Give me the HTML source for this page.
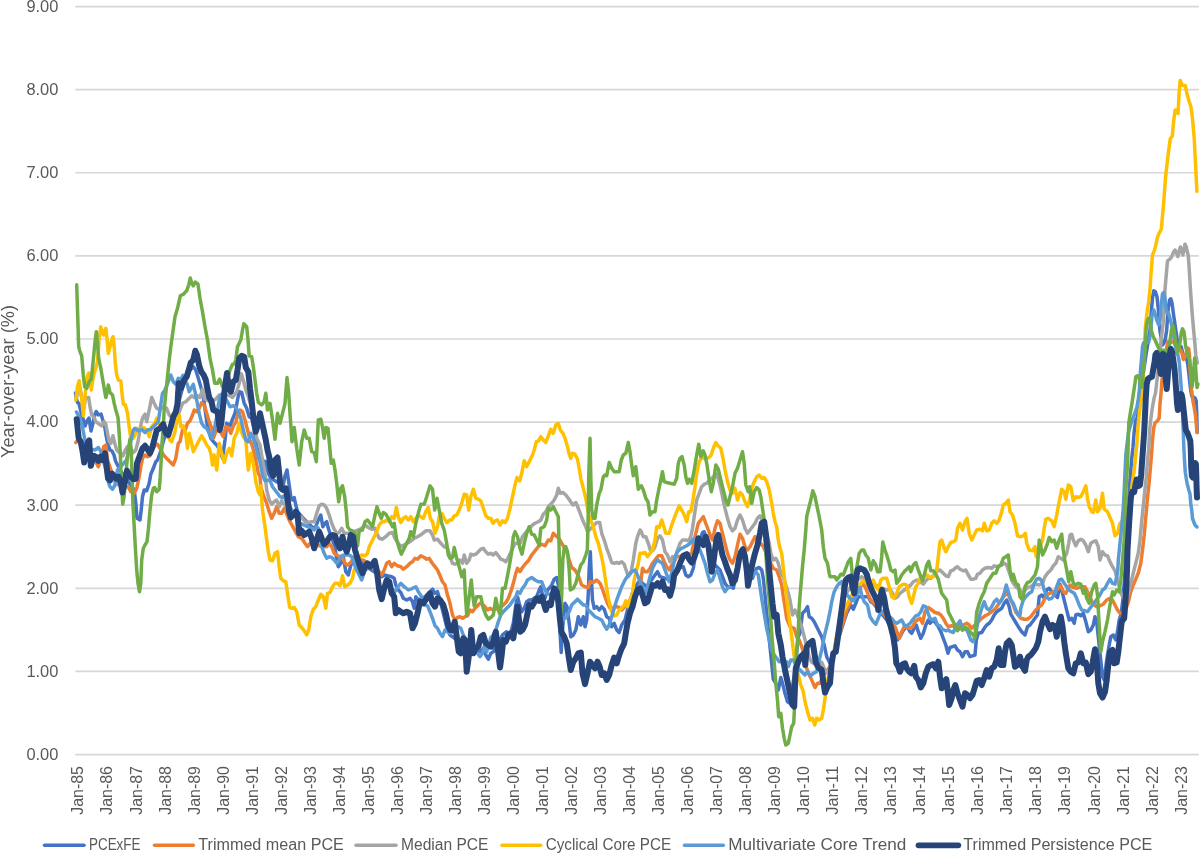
<!DOCTYPE html>
<html><head><meta charset="utf-8"><title>Chart</title>
<style>html,body{margin:0;padding:0;background:#fff}svg{display:block}text{font-family:"Liberation Sans",sans-serif;fill:#595959}</style></head>
<body>
<svg width="1200" height="854" viewBox="0 0 1200 854">
<rect width="1200" height="854" fill="#fff"/>
<g stroke="#D7D7D7" stroke-width="1.7">
<line x1="75.3" y1="6.55" x2="1198.75" y2="6.55"/>
<line x1="75.3" y1="89.66" x2="1198.75" y2="89.66"/>
<line x1="75.3" y1="172.77" x2="1198.75" y2="172.77"/>
<line x1="75.3" y1="255.88" x2="1198.75" y2="255.88"/>
<line x1="75.3" y1="338.99" x2="1198.75" y2="338.99"/>
<line x1="75.3" y1="422.11" x2="1198.75" y2="422.11"/>
<line x1="75.3" y1="505.22" x2="1198.75" y2="505.22"/>
<line x1="75.3" y1="588.33" x2="1198.75" y2="588.33"/>
<line x1="75.3" y1="671.44" x2="1198.75" y2="671.44"/>
<line x1="75.3" y1="754.55" x2="1198.75" y2="754.55"/>
</g>
<g font-size="16.3">
<text x="26.4" y="11.8" textLength="32" lengthAdjust="spacingAndGlyphs">9.00</text>
<text x="26.4" y="95.0" textLength="32" lengthAdjust="spacingAndGlyphs">8.00</text>
<text x="26.4" y="178.1" textLength="32" lengthAdjust="spacingAndGlyphs">7.00</text>
<text x="26.4" y="261.2" textLength="32" lengthAdjust="spacingAndGlyphs">6.00</text>
<text x="26.4" y="344.3" textLength="32" lengthAdjust="spacingAndGlyphs">5.00</text>
<text x="26.4" y="427.4" textLength="32" lengthAdjust="spacingAndGlyphs">4.00</text>
<text x="26.4" y="510.5" textLength="32" lengthAdjust="spacingAndGlyphs">3.00</text>
<text x="26.4" y="593.6" textLength="32" lengthAdjust="spacingAndGlyphs">2.00</text>
<text x="26.4" y="676.7" textLength="32" lengthAdjust="spacingAndGlyphs">1.00</text>
<text x="26.4" y="759.8" textLength="32" lengthAdjust="spacingAndGlyphs">0.00</text>
</g>
<text font-size="18.3" transform="translate(14.2,458) rotate(-90)" textLength="153" lengthAdjust="spacingAndGlyphs">Year-over-year (%)</text>
<g font-size="16.3">
<text transform="translate(83.4,814.8) rotate(-90)" textLength="48.8" lengthAdjust="spacingAndGlyphs">Jan-85</text>
<text transform="translate(112.4,814.8) rotate(-90)" textLength="48.8" lengthAdjust="spacingAndGlyphs">Jan-86</text>
<text transform="translate(141.5,814.8) rotate(-90)" textLength="48.8" lengthAdjust="spacingAndGlyphs">Jan-87</text>
<text transform="translate(170.5,814.8) rotate(-90)" textLength="48.8" lengthAdjust="spacingAndGlyphs">Jan-88</text>
<text transform="translate(199.5,814.8) rotate(-90)" textLength="48.8" lengthAdjust="spacingAndGlyphs">Jan-89</text>
<text transform="translate(228.6,814.8) rotate(-90)" textLength="48.8" lengthAdjust="spacingAndGlyphs">Jan-90</text>
<text transform="translate(257.6,814.8) rotate(-90)" textLength="48.8" lengthAdjust="spacingAndGlyphs">Jan-91</text>
<text transform="translate(286.6,814.8) rotate(-90)" textLength="48.8" lengthAdjust="spacingAndGlyphs">Jan-92</text>
<text transform="translate(315.6,814.8) rotate(-90)" textLength="48.8" lengthAdjust="spacingAndGlyphs">Jan-93</text>
<text transform="translate(344.7,814.8) rotate(-90)" textLength="48.8" lengthAdjust="spacingAndGlyphs">Jan-94</text>
<text transform="translate(373.7,814.8) rotate(-90)" textLength="48.8" lengthAdjust="spacingAndGlyphs">Jan-95</text>
<text transform="translate(402.7,814.8) rotate(-90)" textLength="48.8" lengthAdjust="spacingAndGlyphs">Jan-96</text>
<text transform="translate(431.8,814.8) rotate(-90)" textLength="48.8" lengthAdjust="spacingAndGlyphs">Jan-97</text>
<text transform="translate(460.8,814.8) rotate(-90)" textLength="48.8" lengthAdjust="spacingAndGlyphs">Jan-98</text>
<text transform="translate(489.8,814.8) rotate(-90)" textLength="48.8" lengthAdjust="spacingAndGlyphs">Jan-99</text>
<text transform="translate(518.9,814.8) rotate(-90)" textLength="48.8" lengthAdjust="spacingAndGlyphs">Jan-00</text>
<text transform="translate(547.9,814.8) rotate(-90)" textLength="48.8" lengthAdjust="spacingAndGlyphs">Jan-01</text>
<text transform="translate(576.9,814.8) rotate(-90)" textLength="48.8" lengthAdjust="spacingAndGlyphs">Jan-02</text>
<text transform="translate(605.9,814.8) rotate(-90)" textLength="48.8" lengthAdjust="spacingAndGlyphs">Jan-03</text>
<text transform="translate(635.0,814.8) rotate(-90)" textLength="48.8" lengthAdjust="spacingAndGlyphs">Jan-04</text>
<text transform="translate(664.0,814.8) rotate(-90)" textLength="48.8" lengthAdjust="spacingAndGlyphs">Jan-05</text>
<text transform="translate(693.0,814.8) rotate(-90)" textLength="48.8" lengthAdjust="spacingAndGlyphs">Jan-06</text>
<text transform="translate(722.1,814.8) rotate(-90)" textLength="48.8" lengthAdjust="spacingAndGlyphs">Jan-07</text>
<text transform="translate(751.1,814.8) rotate(-90)" textLength="48.8" lengthAdjust="spacingAndGlyphs">Jan-08</text>
<text transform="translate(780.1,814.8) rotate(-90)" textLength="48.8" lengthAdjust="spacingAndGlyphs">Jan-09</text>
<text transform="translate(809.1,814.8) rotate(-90)" textLength="48.8" lengthAdjust="spacingAndGlyphs">Jan-10</text>
<text transform="translate(838.2,814.8) rotate(-90)" textLength="48.8" lengthAdjust="spacingAndGlyphs">Jan-11</text>
<text transform="translate(867.2,814.8) rotate(-90)" textLength="48.8" lengthAdjust="spacingAndGlyphs">Jan-12</text>
<text transform="translate(896.2,814.8) rotate(-90)" textLength="48.8" lengthAdjust="spacingAndGlyphs">Jan-13</text>
<text transform="translate(925.3,814.8) rotate(-90)" textLength="48.8" lengthAdjust="spacingAndGlyphs">Jan-14</text>
<text transform="translate(954.3,814.8) rotate(-90)" textLength="48.8" lengthAdjust="spacingAndGlyphs">Jan-15</text>
<text transform="translate(983.3,814.8) rotate(-90)" textLength="48.8" lengthAdjust="spacingAndGlyphs">Jan-16</text>
<text transform="translate(1012.4,814.8) rotate(-90)" textLength="48.8" lengthAdjust="spacingAndGlyphs">Jan-17</text>
<text transform="translate(1041.4,814.8) rotate(-90)" textLength="48.8" lengthAdjust="spacingAndGlyphs">Jan-18</text>
<text transform="translate(1070.4,814.8) rotate(-90)" textLength="48.8" lengthAdjust="spacingAndGlyphs">Jan-19</text>
<text transform="translate(1099.5,814.8) rotate(-90)" textLength="48.8" lengthAdjust="spacingAndGlyphs">Jan-20</text>
<text transform="translate(1128.5,814.8) rotate(-90)" textLength="48.8" lengthAdjust="spacingAndGlyphs">Jan-21</text>
<text transform="translate(1157.5,814.8) rotate(-90)" textLength="48.8" lengthAdjust="spacingAndGlyphs">Jan-22</text>
<text transform="translate(1186.5,814.8) rotate(-90)" textLength="48.8" lengthAdjust="spacingAndGlyphs">Jan-23</text>
</g>
<g fill="none" stroke-linejoin="round" stroke-linecap="round">
<polyline stroke="#4472C4" stroke-width="3.5" points="75.5,393.0 76.2,398.0 77.5,402.5 79.0,403.5 81.5,414.0 83.0,419.0 85.0,426.0 87.0,421.0 89.0,418.0 91.0,431.0 93.0,423.0 95.0,414.0 96.2,411.5 98.5,415.0 101.0,414.0 102.5,419.0 104.5,425.0 106.0,435.0 108.0,445.0 110.0,450.0 112.0,451.0 114.0,455.0 115.5,461.0 118.0,466.0 120.0,470.0 134.2,490.0 135.8,503.3 137.0,518.3 140.0,520.0 141.2,510.0 142.5,496.7 144.2,490.0 146.7,490.8 149.2,483.3 150.8,474.2 153.3,468.3 155.8,461.7 157.5,460.0 160.0,453.3 164.2,438.3 170.0,430.0 176.7,410.0 183.3,385.0 188.3,371.7 193.3,366.7 195.8,370.0 198.3,378.3 200.8,386.7 203.3,396.7 207.5,426.7 210.8,438.3 214.2,442.5 216.7,445.0 220.0,450.0 222.5,458.3 225.0,440.0 226.7,423.3 230.0,425.8 232.5,419.2 235.0,413.3 237.5,400.0 239.2,391.7 241.7,392.5 244.2,403.3 246.7,408.3 249.2,416.7 251.7,418.3 254.2,430.0 256.7,446.7 260.0,460.0 265.8,461.7 268.3,473.3 270.8,478.3 276.7,481.7 283.3,485.0 285.0,475.8 287.0,470.0 288.7,481.7 290.8,496.7 292.5,500.0 294.2,497.5 295.8,505.0 297.5,511.7 303.3,518.3 306.7,521.7 310.0,525.0 313.3,528.3 315.8,526.7 318.3,520.0 320.8,515.0 322.8,526.7 325.0,523.3 326.7,521.7 328.3,528.3 330.0,533.3 332.5,540.0 335.0,546.7 336.7,560.0 338.3,566.7 340.8,563.3 343.3,556.7 345.8,571.7 348.3,575.0 350.0,568.3 352.5,560.0 355.0,556.7 366.7,566.7 381.7,576.7 384.2,575.0 387.5,575.8 391.7,576.7 394.2,578.3 395.8,585.0 398.3,590.0 400.8,592.5 403.3,598.3 406.7,600.0 410.0,598.3 412.5,601.7 414.2,608.3 415.8,596.7 418.3,600.0 425.0,596.7 430.0,591.7 432.5,589.2 435.0,593.3 437.5,591.7 440.0,600.0 447.5,630.0 450.0,635.0 452.5,636.7 465.0,646.7 480.8,651.7 483.3,648.3 485.8,655.0 488.3,659.2 490.8,653.3 493.3,651.7 495.8,646.7 502.5,635.0 506.7,631.7 510.0,635.0 513.3,623.3 515.8,605.0 517.5,596.7 519.2,603.3 521.7,611.7 524.2,608.3 526.7,601.7 529.2,600.0 531.7,600.0 534.2,598.3 536.7,596.7 539.2,590.0 540.8,586.7 542.5,595.0 545.0,598.3 547.5,590.0 549.2,588.3 551.7,585.0 554.2,579.2 556.7,577.5 558.3,585.0 559.2,610.0 560.3,636.7 561.2,652.5 562.0,636.7 563.3,620.0 565.0,603.3 567.0,606.7 569.2,623.3 570.8,636.7 573.3,635.0 575.8,630.0 578.3,616.7 580.8,625.0 583.3,616.7 585.0,626.7 586.7,620.0 588.3,593.3 589.2,568.3 590.3,551.7 591.3,576.7 592.5,600.0 594.2,608.3 596.7,606.7 599.2,610.0 601.7,606.7 604.2,609.2 606.7,616.7 609.2,618.3 611.7,626.7 614.2,623.3 616.7,630.0 619.2,632.5 621.7,625.0 625.0,620.0 627.5,610.0 633.3,590.0 640.0,580.0 642.5,583.3 646.7,586.7 655.0,575.0 657.5,571.7 660.0,576.7 670.0,580.0 678.3,568.3 683.3,566.7 685.8,575.0 688.3,576.7 690.8,575.0 693.3,568.3 695.0,558.3 700.0,540.0 702.5,532.5 704.2,531.7 705.8,536.7 711.7,561.7 720.0,570.0 722.5,576.7 725.0,583.3 727.5,586.7 730.0,586.7 733.3,588.3 735.8,576.7 739.2,560.0 742.5,551.7 745.3,558.3 747.7,580.0 750.3,575.8 752.5,578.3 754.2,573.3 756.7,568.3 759.2,567.5 761.7,570.0 763.3,578.3 765.0,595.0 766.7,613.3 768.3,630.0 770.0,646.7 771.7,663.3 773.3,679.2 775.8,683.3 778.3,690.0 780.8,677.5 782.5,683.3 785.0,693.3 787.5,701.7 790.0,703.3 795.0,670.0 798.3,636.7 800.0,633.3 802.5,613.3 805.0,610.8 807.5,606.7 809.2,616.7 811.7,618.3 814.2,621.7 816.7,626.7 819.2,631.7 821.7,636.7 824.2,645.0 826.7,656.7 830.0,663.3 835.0,650.0 843.3,623.3 846.7,613.3 850.8,605.0 853.3,609.2 855.8,603.3 858.3,596.7 868.3,596.7 870.8,601.7 873.3,603.3 886.7,620.0 897.5,640.0 900.0,636.7 902.5,631.7 905.0,628.3 907.5,626.7 910.0,631.7 911.7,633.3 914.2,628.3 916.3,625.0 918.3,631.7 920.8,638.3 923.3,633.3 925.8,625.0 928.3,620.0 930.0,623.3 933.3,620.0 935.8,623.3 938.3,626.7 940.8,631.7 943.3,638.3 945.8,645.0 948.0,653.3 950.0,647.5 952.5,646.7 955.0,645.8 957.5,650.0 960.0,651.7 962.5,656.7 965.0,651.7 967.5,651.7 970.0,656.7 972.5,655.8 975.0,655.0 976.3,640.0 978.3,633.3 981.7,632.5 984.2,628.3 986.7,625.0 989.2,623.3 991.7,620.0 994.2,615.0 996.7,611.7 999.2,610.0 1001.7,608.3 1004.2,603.3 1006.7,600.0 1009.2,606.7 1010.8,614.2 1013.3,618.3 1015.8,622.5 1018.3,626.7 1020.0,629.2 1021.7,631.7 1025.0,635.0 1027.5,626.7 1030.0,625.0 1032.5,621.7 1035.0,618.3 1037.5,615.0 1039.2,596.7 1041.7,595.0 1044.2,598.3 1046.7,590.0 1049.2,588.3 1051.7,591.7 1055.0,595.0 1057.5,597.5 1060.0,584.2 1062.5,593.3 1065.0,603.3 1067.5,613.3 1069.2,620.0 1071.7,618.3 1074.2,623.3 1075.8,615.0 1078.3,614.2 1080.8,615.8 1083.3,613.3 1085.8,621.7 1088.3,631.7 1090.8,630.0 1093.3,625.0 1095.0,616.7 1096.7,621.7 1098.3,636.7 1100.0,653.3 1102.5,676.7 1104.2,680.0 1106.7,660.0 1109.2,645.0 1110.8,636.7 1113.3,635.0 1115.8,640.0 1117.5,631.7 1119.2,620.0 1120.8,615.0 1122.5,603.3 1124.5,580.0 1126.5,540.0 1128.3,508.0 1130.0,480.0 1131.8,458.0 1132.9,448.0 1134.2,431.7 1135.6,421.0 1137.5,416.7 1140.0,400.0 1143.0,375.0 1146.0,355.0 1150.0,330.0 1151.2,313.0 1152.5,298.0 1153.8,290.8 1155.4,291.7 1157.0,296.7 1158.3,309.0 1159.2,321.7 1160.0,331.0 1162.5,345.0 1165.0,341.0 1166.7,330.0 1167.5,317.5 1168.3,307.5 1169.6,300.0 1170.8,298.8 1172.0,303.0 1173.3,313.0 1174.6,321.7 1175.8,330.0 1177.0,338.0 1178.3,345.0 1181.2,346.7 1182.5,352.5 1183.3,354.0 1186.7,359.0 1187.9,365.0 1190.4,388.0 1191.7,396.0 1195.0,398.0 1196.2,401.0 1196.7,413.0 1197.2,432.5"/>
<polyline stroke="#ED7D31" stroke-width="3.5" points="75.8,442.5 78.3,440.0 85.0,453.3 95.8,461.7 98.3,466.7 100.8,460.0 103.7,446.7 105.8,445.0 107.5,460.0 115.0,481.7 117.5,484.2 123.3,486.7 128.3,486.7 130.8,491.7 134.2,493.3 136.7,488.3 139.2,476.7 140.8,466.7 142.5,458.3 145.0,455.0 147.5,456.7 150.0,455.8 152.5,450.0 155.0,445.0 157.5,444.2 160.0,448.3 162.5,453.3 165.0,456.7 168.3,460.0 170.8,462.5 173.3,465.0 175.8,458.3 178.3,443.3 180.0,441.7 182.5,430.0 185.0,430.8 187.5,423.3 190.0,420.8 192.5,415.0 194.2,410.0 196.7,411.7 199.2,408.3 201.7,402.5 204.2,405.0 206.7,413.3 209.2,421.7 211.7,428.3 213.3,438.3 215.8,431.7 218.3,430.0 220.8,432.5 223.3,436.7 225.8,426.7 228.3,427.5 230.8,433.3 233.3,425.8 235.8,422.5 237.5,415.0 240.0,410.0 242.5,411.7 245.0,420.0 247.5,430.0 250.0,440.0 252.5,446.7 255.8,460.0 258.3,473.3 260.0,476.7 260.8,486.7 263.3,495.0 266.7,503.3 269.2,511.7 271.7,518.3 274.2,513.3 276.7,506.7 279.2,513.3 281.7,513.3 284.2,508.3 285.8,511.7 290.0,521.7 298.3,536.7 301.7,538.3 305.0,543.3 307.5,546.7 310.0,543.3 316.7,545.0 323.3,546.7 326.7,546.7 329.2,543.3 331.7,546.7 334.2,553.3 336.7,555.0 340.0,556.7 342.5,558.3 345.0,563.3 347.5,565.0 350.0,563.3 352.5,560.0 363.3,560.0 371.7,566.7 379.2,571.7 381.7,575.0 384.2,570.0 386.7,563.3 389.2,561.7 391.7,566.7 394.2,563.3 397.5,565.8 400.8,566.7 403.3,569.2 406.7,566.7 410.0,563.3 412.5,561.7 415.0,558.3 417.5,559.2 420.8,555.8 424.2,557.5 426.7,559.2 429.2,558.3 431.7,562.5 435.0,566.7 437.5,570.0 440.0,575.8 442.5,581.7 445.0,585.0 447.5,595.0 450.0,603.3 452.5,615.0 455.0,620.0 457.5,617.5 460.0,616.7 462.5,618.3 465.0,616.7 467.5,615.8 470.0,610.0 472.5,611.7 475.0,608.3 477.5,605.8 480.0,603.3 482.5,604.2 485.0,606.7 487.5,610.0 490.0,608.3 493.3,610.0 497.5,608.3 502.5,605.8 505.8,602.5 508.3,598.3 510.8,591.7 513.3,583.3 515.8,573.3 517.5,568.3 520.0,571.7 522.5,567.5 525.0,564.2 528.3,560.8 531.7,555.0 535.0,550.8 538.3,546.7 541.7,544.2 545.0,545.8 548.3,540.0 550.8,540.8 553.3,533.3 555.8,535.8 558.3,537.5 560.8,541.7 563.3,545.8 566.7,551.7 569.2,560.0 571.7,567.5 575.0,570.0 578.3,575.8 581.7,585.0 585.0,586.7 588.3,587.5 590.0,581.7 593.3,582.5 596.7,580.0 600.0,583.3 602.5,589.2 605.0,596.7 607.5,603.3 610.0,608.3 616.7,606.7 619.2,607.5 621.7,610.0 628.3,603.3 630.8,598.3 640.0,588.3 642.5,568.3 645.0,571.7 647.5,571.7 650.0,568.3 652.5,563.3 655.0,560.0 658.3,555.8 661.7,555.8 664.2,561.7 666.7,566.7 669.2,570.0 671.7,565.0 674.2,561.7 676.7,556.7 685.0,555.8 691.7,553.3 694.2,540.0 695.8,533.3 698.3,523.3 700.8,520.0 703.3,516.7 705.8,523.3 708.3,530.0 710.8,536.7 712.5,540.0 715.0,528.3 717.5,520.8 720.0,523.3 722.5,533.3 725.0,543.3 727.5,553.3 730.0,560.0 732.5,563.3 735.0,556.7 737.5,545.0 740.0,534.2 742.5,538.3 745.0,546.7 747.5,550.0 750.0,546.7 752.5,541.7 755.0,536.7 763.3,546.7 770.8,563.3 773.3,568.3 776.7,570.0 779.2,576.7 781.7,585.0 783.3,596.7 785.0,606.7 786.7,618.3 790.0,626.7 794.2,628.3 796.7,636.7 799.2,640.0 801.7,646.7 803.3,651.7 805.0,665.0 806.7,668.3 809.2,675.0 811.7,680.0 815.0,687.5 817.5,683.3 820.0,683.3 822.5,676.7 830.0,666.7 831.7,661.7 836.7,641.7 843.3,621.7 846.7,610.0 850.0,603.3 851.7,596.7 863.3,583.3 865.8,588.3 868.3,595.0 870.8,600.0 883.3,613.3 895.0,626.7 897.5,633.3 899.2,638.3 901.7,631.7 904.2,626.7 906.7,627.5 910.0,628.3 912.5,626.7 915.0,621.7 917.5,620.0 920.0,618.3 922.5,623.3 925.0,611.7 928.3,607.5 931.7,610.0 935.0,612.5 938.3,613.3 940.8,615.0 943.3,618.3 945.8,623.3 948.3,626.7 951.7,625.8 955.0,626.7 963.3,625.0 966.7,623.3 969.2,625.0 971.7,628.3 978.3,621.7 981.7,618.3 985.0,615.8 988.3,614.2 991.7,611.7 995.0,609.2 997.5,605.8 1000.0,601.7 1002.5,598.3 1005.0,595.0 1007.5,593.3 1010.0,598.3 1013.3,605.0 1015.8,612.3 1018.3,615.0 1020.0,617.5 1020.8,618.3 1024.2,619.2 1027.5,619.2 1030.8,616.7 1033.3,613.3 1035.8,610.0 1039.2,606.7 1041.7,605.0 1044.2,600.0 1046.7,595.0 1050.0,593.3 1053.3,591.7 1056.7,590.0 1060.8,585.8 1063.3,591.7 1065.8,593.3 1070.0,585.0 1073.3,587.5 1076.7,588.3 1081.7,586.7 1085.0,586.7 1087.5,591.7 1090.0,596.7 1092.5,603.3 1096.7,606.7 1100.0,605.8 1103.3,604.2 1106.7,600.0 1110.0,598.3 1112.5,600.0 1115.0,605.0 1117.5,610.0 1120.0,613.3 1122.5,613.3 1125.5,610.0 1128.3,602.0 1130.8,591.7 1133.3,585.0 1135.8,579.0 1138.3,573.0 1140.8,563.0 1142.5,550.0 1144.2,535.0 1145.6,519.0 1147.5,498.0 1149.2,481.7 1150.8,463.0 1151.7,452.5 1152.5,440.0 1153.8,427.5 1155.0,423.0 1157.5,420.8 1159.2,418.0 1160.0,404.0 1161.2,391.0 1162.0,380.0 1164.0,368.0 1166.2,355.0 1166.8,346.7 1168.0,341.7 1170.0,343.0 1172.0,342.0 1174.0,341.7 1175.5,345.5 1176.7,347.0 1179.2,348.5 1181.7,352.0 1183.3,359.5 1184.6,357.5 1186.2,353.0 1187.5,348.0 1188.8,349.0 1189.6,357.5 1190.0,367.5 1190.8,380.0 1191.6,390.0 1192.3,396.0 1192.9,400.8 1194.2,407.5 1195.4,415.0 1196.2,423.0 1197.0,432.5"/>
<polyline stroke="#A5A5A5" stroke-width="3.5" points="76.7,397.0 78.0,390.0 80.0,388.0 82.0,398.0 84.0,408.0 85.5,398.0 88.7,397.5 90.0,406.7 91.7,415.0 94.2,417.5 95.8,421.7 99.2,424.2 101.7,425.8 104.2,421.7 105.8,424.2 107.5,433.3 109.2,441.7 110.8,443.3 113.0,435.8 114.7,443.3 116.7,450.0 119.2,452.5 120.8,453.3 123.0,455.8 125.3,450.0 127.5,446.7 130.0,448.3 133.3,452.5 135.8,450.0 138.0,441.7 140.0,430.0 141.7,420.8 143.3,416.7 145.0,414.2 146.7,421.7 149.2,410.0 151.7,397.5 154.2,403.3 156.7,408.3 160.0,410.0 163.3,406.7 166.7,408.3 169.2,415.0 171.7,417.5 175.0,415.0 177.5,415.8 180.0,410.0 182.5,403.3 185.8,401.7 188.3,399.2 191.7,395.8 194.2,397.5 197.5,395.8 200.0,397.5 202.5,389.2 204.7,399.2 206.7,400.0 210.0,401.7 212.5,400.8 215.8,399.2 219.2,395.0 220.0,395.0 224.2,395.0 230.0,395.8 232.5,397.5 236.7,391.7 239.2,383.3 241.3,373.7 243.3,380.0 245.8,390.0 248.3,396.7 250.8,405.0 254.2,423.3 256.7,438.3 260.0,445.0 262.5,460.0 265.0,473.3 266.7,490.0 269.2,500.0 271.7,504.2 274.2,501.7 276.7,500.0 279.2,506.7 281.7,500.8 283.3,503.3 291.7,511.7 301.7,517.5 305.0,521.7 308.3,522.5 311.7,521.7 314.2,521.7 316.7,513.3 319.2,505.8 321.7,504.2 324.2,505.0 326.7,508.3 329.2,515.0 331.7,523.3 334.2,529.2 336.7,533.3 339.2,532.5 341.7,528.3 344.2,533.3 350.0,533.3 358.3,530.0 361.7,528.3 365.0,525.0 368.3,527.5 371.7,529.2 375.0,528.3 376.7,533.3 379.2,538.3 382.5,539.2 385.8,536.7 389.2,533.3 392.5,532.5 395.0,538.3 398.3,543.3 400.8,546.7 410.0,541.7 414.2,538.3 417.5,536.7 421.7,534.2 425.8,530.8 430.0,530.8 432.5,535.0 434.2,540.0 437.5,539.2 440.8,543.3 444.2,546.7 447.5,548.3 450.0,556.7 452.5,563.3 455.0,564.2 457.5,563.3 460.0,560.0 462.5,563.3 464.2,555.0 466.7,563.3 469.2,560.0 470.8,554.2 473.3,555.0 475.8,554.2 478.3,551.7 480.8,549.2 483.3,548.3 485.8,551.7 488.3,554.2 490.8,553.3 493.3,555.0 495.8,552.5 498.3,555.8 500.8,559.2 503.3,560.0 505.8,561.7 507.5,559.2 515.0,543.3 520.0,543.3 522.5,536.7 525.0,533.3 532.5,525.0 535.0,523.3 538.3,521.7 540.8,520.0 543.3,514.2 545.8,511.7 548.3,506.7 551.7,503.3 554.2,500.0 556.7,495.0 558.3,488.3 560.3,493.3 563.0,492.5 565.8,495.0 568.3,498.3 571.7,503.3 573.3,505.0 575.8,502.5 578.3,508.3 580.8,515.0 583.3,521.7 585.8,526.7 587.5,531.7 594.2,525.0 596.7,522.5 599.7,522.5 601.7,533.3 604.2,540.0 606.7,548.3 609.2,555.0 611.7,562.5 614.2,563.3 616.7,562.5 619.2,563.3 621.7,561.7 624.2,564.2 626.7,571.7 628.3,576.7 630.8,573.3 633.3,560.0 635.8,543.3 637.5,536.7 640.0,530.0 640.8,530.8 643.3,536.7 645.8,536.7 648.3,543.3 650.8,551.7 653.3,550.0 655.0,546.7 657.5,538.3 660.0,535.8 662.5,540.0 665.0,551.7 667.5,555.0 670.0,561.7 672.5,556.7 675.0,558.3 677.5,550.0 680.0,543.3 682.5,540.0 685.8,540.0 688.3,540.8 690.8,536.7 692.5,528.3 694.2,516.7 696.7,500.0 699.2,493.3 701.7,486.7 704.2,484.2 706.7,483.3 711.7,478.3 716.7,474.2 720.0,485.0 722.5,496.7 725.0,508.3 727.5,518.3 730.0,526.7 732.5,530.8 735.0,528.3 737.5,520.0 740.0,515.0 742.5,520.0 745.0,528.3 747.5,533.3 750.0,530.0 752.5,526.7 755.0,523.3 757.5,518.3 760.0,515.8 765.0,526.7 769.2,543.3 770.8,553.3 773.3,560.0 775.8,558.3 778.3,563.3 780.8,573.3 783.3,576.7 788.3,593.3 790.0,600.0 792.5,615.0 795.0,610.0 796.7,613.3 799.2,620.0 801.7,626.7 804.2,636.7 806.7,646.7 809.2,656.7 811.7,662.3 816.7,665.0 821.7,662.3 824.2,668.3 826.7,671.7 830.0,673.3 830.8,670.0 836.7,636.7 845.0,595.0 853.3,583.3 861.7,576.7 870.0,581.7 878.3,586.7 886.7,590.0 890.0,589.2 892.5,593.3 895.0,598.3 897.5,596.7 900.0,593.3 910.8,585.0 913.3,581.7 916.7,580.0 920.0,581.7 923.3,584.2 925.8,580.8 928.3,578.3 930.8,578.3 935.0,573.3 937.5,570.8 940.0,570.0 943.3,573.3 945.8,575.8 948.3,576.7 950.8,570.8 953.3,570.0 955.8,567.5 957.5,566.7 960.0,569.2 963.3,570.8 965.8,570.0 968.3,575.0 970.8,579.2 973.3,579.2 975.8,578.3 977.5,574.2 980.0,573.3 982.5,570.0 985.0,568.3 988.3,567.5 991.7,568.3 994.2,565.8 996.7,566.7 999.2,565.8 1001.7,565.0 1004.2,563.3 1006.7,565.0 1008.3,570.0 1013.3,583.3 1015.8,586.7 1020.0,590.0 1022.5,593.3 1026.7,588.3 1030.0,586.7 1033.3,585.0 1035.8,584.2 1039.2,585.0 1042.5,583.3 1045.0,576.7 1047.5,573.3 1050.8,570.0 1053.3,565.8 1055.8,563.3 1058.3,556.7 1060.8,558.3 1063.3,560.0 1066.7,553.3 1068.7,543.3 1070.0,535.0 1071.7,534.2 1073.3,540.0 1075.8,545.8 1078.3,540.8 1080.8,539.2 1083.3,540.8 1085.8,545.0 1088.3,551.7 1090.8,543.3 1093.3,541.7 1095.8,540.8 1098.3,546.7 1100.0,560.0 1102.5,551.7 1105.0,555.0 1107.5,555.8 1110.0,561.7 1112.5,566.7 1115.0,570.8 1117.5,580.0 1120.8,593.0 1123.3,598.0 1126.0,600.0 1128.5,593.0 1130.8,583.0 1133.3,573.0 1135.8,563.0 1138.3,553.0 1140.0,540.0 1141.7,521.0 1144.0,499.0 1146.3,477.0 1147.5,461.0 1148.8,448.0 1149.6,431.7 1150.8,419.0 1152.5,406.7 1154.0,398.5 1155.5,393.0 1156.7,383.0 1157.9,371.7 1159.0,361.0 1160.0,351.0 1161.4,338.0 1163.3,321.7 1164.5,301.2 1165.0,290.0 1165.8,280.0 1166.7,270.0 1167.5,260.8 1170.0,259.0 1171.7,256.7 1173.3,252.5 1175.0,250.0 1176.2,252.5 1177.9,256.7 1179.2,250.8 1180.4,247.0 1181.7,250.8 1182.9,255.0 1184.2,248.3 1185.0,244.2 1186.2,246.7 1187.0,250.8 1188.3,255.8 1188.8,263.0 1189.6,275.0 1190.3,287.0 1191.2,300.0 1192.5,317.5 1193.8,332.0 1195.0,345.0 1195.8,355.0 1197.3,363.0"/>
<polyline stroke="#FFC000" stroke-width="3.5" points="75.8,400.0 77.5,386.7 79.2,380.8 80.3,391.7 81.7,398.3 83.3,415.8 84.7,400.0 86.0,386.7 87.5,375.8 88.8,373.0 90.0,380.0 91.3,390.0 92.8,380.0 94.0,374.0 95.8,368.3 97.5,361.7 99.2,338.3 100.8,326.7 102.5,333.3 103.7,335.0 105.8,328.3 107.0,338.3 108.3,353.3 110.0,346.7 111.7,340.0 113.0,336.7 114.2,346.7 115.3,363.3 116.7,375.0 118.3,380.0 120.8,380.8 122.0,393.3 123.3,404.2 125.3,404.7 127.5,413.3 129.2,426.7 130.8,438.3 133.3,438.3 135.8,433.3 137.5,428.3 140.0,429.2 143.3,427.5 146.7,430.0 149.2,436.7 151.7,426.7 155.0,423.3 156.7,418.3 158.3,421.7 163.3,430.0 170.0,440.0 171.7,441.7 175.0,431.7 177.5,416.7 179.2,415.0 180.8,426.7 183.3,425.8 185.8,435.0 187.5,448.3 189.2,433.3 191.7,443.3 193.3,451.7 195.8,446.7 198.3,441.7 201.7,435.8 204.2,440.0 206.7,445.0 209.2,448.3 210.8,453.3 212.5,465.0 214.2,455.0 216.7,470.0 219.2,443.3 221.7,453.3 224.2,462.5 226.7,453.3 229.2,448.3 231.7,455.8 234.2,438.3 236.7,433.3 239.2,423.3 240.8,430.0 243.3,436.7 245.8,440.0 248.3,470.0 250.8,453.3 253.3,463.3 255.8,481.7 258.3,491.7 260.0,495.0 260.8,485.8 262.5,510.0 265.0,526.7 266.7,540.0 268.3,551.7 270.0,560.0 272.5,560.8 275.0,553.3 277.5,551.7 279.2,566.7 280.8,578.3 283.3,580.8 285.8,581.7 287.5,593.3 289.7,607.5 291.7,608.3 294.2,607.5 296.7,611.7 299.2,625.0 301.7,627.5 304.2,630.8 306.7,634.7 308.7,630.0 310.8,616.7 313.3,609.2 315.8,606.7 318.3,600.0 320.8,594.2 323.3,596.7 325.8,608.3 327.5,593.3 330.0,592.5 332.5,586.7 335.0,583.3 337.5,583.3 340.0,585.8 342.5,575.8 344.7,586.7 347.5,585.0 350.0,583.3 352.5,578.3 354.2,570.0 356.7,563.3 359.2,558.3 361.7,555.0 365.0,555.8 367.5,553.3 369.2,546.7 371.7,541.7 374.2,536.7 376.7,531.7 379.2,525.0 381.7,521.7 384.2,521.7 386.7,520.0 389.2,521.7 391.7,516.7 394.2,518.3 396.3,507.5 398.3,516.7 400.8,522.5 403.3,518.3 405.8,516.7 408.3,520.0 410.8,516.7 413.3,521.7 415.8,518.3 418.3,515.0 420.8,516.7 423.3,518.3 425.8,511.7 428.3,507.5 430.3,518.3 432.5,521.7 435.0,533.3 437.5,526.7 439.2,516.7 441.7,513.3 444.2,518.3 446.7,522.5 450.0,520.0 451.7,520.0 454.2,515.8 456.7,515.0 459.2,510.0 461.7,503.3 464.2,494.2 466.7,495.0 468.7,510.0 470.8,496.7 473.3,489.2 475.8,498.3 478.3,499.2 480.8,500.8 483.3,508.3 485.8,515.8 488.3,518.3 490.8,518.3 493.0,523.3 495.0,520.8 497.5,520.0 500.0,525.0 502.5,520.8 505.0,522.5 507.5,518.3 510.0,508.3 512.5,496.7 515.0,485.0 517.0,477.5 519.7,480.8 521.7,473.3 524.2,460.8 526.7,466.7 529.2,461.7 532.5,455.0 534.2,450.0 536.3,441.7 538.7,440.8 540.8,436.7 543.3,440.0 545.8,442.5 548.3,435.8 550.8,429.2 553.3,433.3 555.8,425.0 558.3,423.3 560.3,430.0 563.0,433.3 565.3,439.2 567.5,446.7 569.2,454.2 570.8,458.3 572.5,453.3 575.0,454.2 577.5,459.2 579.2,468.3 580.8,478.3 583.3,488.3 585.8,498.3 587.5,508.3 589.2,516.7 593.3,526.7 595.8,536.7 598.3,543.3 600.8,553.3 603.3,565.0 605.0,576.7 606.7,588.3 608.3,598.3 610.0,605.0 611.7,611.7 614.2,615.8 616.7,615.0 619.2,610.0 621.7,608.3 624.2,605.0 625.8,600.8 627.5,606.7 630.0,600.0 632.5,593.3 634.2,580.0 635.8,573.3 638.3,563.3 640.0,553.3 642.5,553.3 645.0,552.5 647.5,556.7 650.0,553.3 652.5,550.0 655.0,540.0 656.7,526.7 659.2,527.5 661.7,520.0 663.3,525.0 665.8,533.3 669.2,533.3 671.7,525.0 674.2,518.3 676.7,511.7 679.2,505.8 681.7,510.0 684.2,515.0 686.7,521.7 688.7,511.7 690.8,511.7 693.0,500.0 695.0,486.7 696.7,473.3 699.2,461.7 701.7,457.5 704.2,458.3 707.5,458.3 710.8,455.8 713.3,448.3 715.8,442.5 718.0,445.8 720.8,448.3 723.0,458.3 725.0,470.0 727.5,481.7 730.0,490.0 732.5,493.3 735.0,488.3 737.5,500.0 740.0,492.5 742.5,495.0 745.0,501.7 747.5,506.7 749.7,500.0 751.7,488.3 754.2,481.7 756.7,476.7 759.2,475.0 761.7,478.3 764.2,477.5 766.7,481.7 769.2,490.0 771.7,503.3 773.3,513.3 775.0,521.7 776.7,526.7 778.3,540.0 780.0,548.3 781.7,553.3 783.3,568.3 785.0,583.3 786.7,598.3 788.3,611.7 790.0,623.3 791.7,636.7 793.3,650.0 795.0,662.3 798.3,675.0 800.8,685.0 803.3,691.7 805.0,701.7 807.5,711.7 810.0,720.0 812.5,718.3 814.7,725.0 816.7,718.3 819.2,720.0 821.7,718.3 823.3,710.0 825.0,698.3 826.7,686.7 828.3,676.7 830.0,670.0 832.5,661.7 835.0,645.0 838.3,628.3 843.3,611.7 848.3,601.7 850.8,596.7 853.3,593.3 860.0,585.0 862.5,580.8 865.0,581.7 870.0,586.7 873.3,580.0 875.8,586.7 878.3,590.0 880.8,580.0 883.3,578.3 886.7,578.3 889.2,586.7 891.7,596.7 894.2,598.3 896.7,593.3 899.2,586.7 901.7,585.0 904.2,584.2 906.7,585.0 909.2,596.7 911.7,603.3 914.2,593.3 915.8,586.7 918.3,583.3 920.0,578.3 923.3,576.7 926.7,575.0 930.0,577.5 933.3,576.7 936.7,570.0 938.3,556.7 940.0,541.7 941.7,540.0 944.2,548.3 945.8,551.7 948.3,546.7 950.8,542.5 953.3,541.7 955.8,540.0 957.5,528.3 960.0,523.3 962.5,530.0 965.0,521.7 967.0,518.3 969.2,533.3 971.7,540.0 974.2,535.0 976.7,530.0 980.0,529.2 982.5,530.8 984.2,523.3 986.7,530.8 989.2,530.0 991.7,523.3 994.2,520.8 996.7,523.3 999.2,520.0 1001.7,511.7 1003.3,505.0 1005.8,503.3 1008.3,500.0 1010.0,511.7 1012.5,515.0 1015.0,523.3 1017.5,535.8 1020.0,536.7 1020.8,536.7 1023.3,535.8 1025.3,533.3 1026.7,543.3 1029.2,550.0 1032.5,550.8 1035.0,546.7 1036.3,556.7 1038.0,553.3 1042.5,540.0 1044.2,528.3 1045.8,519.2 1048.3,518.3 1051.7,520.8 1054.2,526.7 1056.7,515.0 1059.2,501.7 1061.7,489.2 1064.2,491.7 1065.8,499.2 1068.3,485.0 1070.8,486.7 1073.3,500.8 1075.8,496.7 1078.3,497.5 1080.8,496.7 1083.3,491.7 1085.8,485.8 1087.5,498.3 1089.2,506.7 1091.7,511.7 1093.3,512.5 1095.8,500.0 1097.5,511.7 1100.0,508.3 1102.5,493.3 1104.2,509.2 1107.5,511.7 1110.0,517.5 1112.5,523.3 1115.0,535.8 1117.5,533.3 1119.7,524.2 1124.0,518.0 1128.0,505.0 1131.5,489.0 1134.0,472.0 1135.8,455.0 1137.2,440.0 1138.3,423.0 1139.6,410.8 1140.8,402.5 1142.3,392.0 1143.3,376.7 1144.3,346.0 1145.4,326.7 1147.0,313.0 1148.8,300.8 1150.0,289.0 1150.8,276.7 1151.7,265.0 1152.5,255.0 1154.2,250.8 1155.4,246.7 1156.7,240.8 1158.0,235.8 1161.3,229.0 1163.5,204.7 1165.7,175.7 1168.0,155.7 1170.2,139.0 1172.4,135.7 1173.5,122.3 1175.1,110.0 1178.0,113.4 1179.1,93.4 1180.2,80.5 1182.4,85.6 1185.3,85.6 1186.9,93.4 1189.1,101.2 1190.9,106.7 1192.4,117.9 1194.2,137.9 1195.3,160.0 1196.9,191.3"/>
<polyline stroke="#5B9BD5" stroke-width="3.5" points="76.5,412.0 80.0,418.0 82.0,425.0 84.0,435.0 85.0,441.0 90.0,449.0 95.0,450.0 98.5,447.5 101.0,452.0 105.0,466.7 108.3,481.7 110.0,486.7 112.5,489.2 115.0,485.0 117.5,470.0 126.7,460.0 133.3,430.0 135.0,428.3 138.3,430.8 141.7,429.2 145.0,432.5 147.5,430.0 150.8,429.2 153.3,426.7 155.8,424.2 158.3,421.7 160.0,410.0 162.5,393.3 165.0,390.0 168.3,381.7 170.8,375.0 173.3,381.7 175.8,384.2 178.3,378.3 180.8,380.0 183.0,375.3 185.0,380.0 187.5,385.0 189.2,391.7 191.7,387.5 193.3,384.2 195.0,391.7 197.0,401.7 199.2,413.3 201.7,423.3 204.2,426.7 206.7,428.3 209.2,433.3 211.7,438.3 214.2,430.0 216.7,416.7 218.3,405.0 220.0,396.7 222.5,393.3 227.5,401.7 230.0,406.7 233.3,405.8 235.8,407.5 238.3,411.7 240.8,418.3 243.3,430.0 245.8,440.0 248.3,441.7 250.8,433.3 253.3,438.3 255.8,446.7 258.3,456.7 260.0,461.7 262.5,475.0 265.0,480.8 267.5,480.0 270.0,480.8 272.5,486.7 275.0,490.0 277.5,493.3 280.0,496.7 282.5,497.5 284.2,495.8 285.8,500.0 300.0,523.3 311.7,528.3 314.2,530.0 316.7,526.7 318.3,528.3 321.7,546.7 324.2,553.3 326.7,558.3 329.2,556.7 331.7,557.5 334.2,560.0 336.7,563.3 339.2,560.0 341.7,555.8 344.2,555.0 346.7,555.0 349.2,555.0 351.7,556.7 354.2,563.3 356.7,570.0 359.2,575.0 361.7,580.0 365.0,570.0 370.0,567.5 375.0,565.8 377.5,576.7 380.0,590.0 383.3,591.7 386.7,583.3 390.8,586.7 394.2,593.3 396.7,588.3 400.8,583.3 404.2,586.7 408.3,590.0 412.5,588.3 415.8,586.7 418.3,591.7 421.7,596.7 425.0,605.0 427.5,605.8 430.0,611.7 432.5,618.3 435.0,625.8 437.5,628.3 440.0,633.3 442.5,636.7 445.0,630.0 447.5,631.7 450.0,633.3 452.5,631.7 458.3,626.7 460.8,628.3 463.3,635.0 470.0,646.7 477.5,653.3 480.0,656.7 482.5,653.3 484.2,646.7 486.7,651.7 489.2,643.3 490.8,637.5 493.3,635.0 495.8,630.0 498.3,621.7 500.8,615.0 503.3,611.7 506.7,608.3 510.0,605.0 513.3,600.0 515.8,596.7 517.5,591.7 520.0,593.3 522.5,588.3 525.0,585.0 527.5,580.0 531.7,577.5 535.0,580.0 538.3,581.7 541.7,581.7 544.2,588.3 546.7,593.3 556.7,596.7 560.8,613.3 563.3,620.0 566.7,616.7 569.2,611.7 571.7,605.0 575.0,601.7 577.5,599.2 580.0,601.7 583.3,605.0 585.8,605.0 588.3,610.0 591.7,613.3 595.0,616.7 598.3,618.3 601.7,620.0 604.2,625.0 606.7,629.2 609.2,625.0 611.7,616.7 614.2,608.3 616.7,600.0 619.2,593.3 621.7,586.7 625.0,580.0 628.3,575.0 631.7,571.7 635.0,570.0 637.5,575.0 640.0,581.7 642.5,586.7 645.0,593.3 647.5,586.7 650.0,576.7 652.5,568.3 655.0,563.3 657.5,560.0 660.0,561.7 662.5,563.3 665.0,570.0 667.5,576.7 669.2,581.7 672.5,570.0 675.0,556.7 677.5,551.7 680.0,549.2 683.3,547.5 686.7,545.8 690.0,543.3 693.3,539.2 696.7,543.3 700.0,550.0 702.5,556.7 705.0,563.3 707.5,573.3 710.0,581.7 712.5,580.0 715.0,573.3 717.5,570.0 720.0,578.3 722.5,586.7 725.0,591.7 727.5,588.3 730.0,586.7 733.3,584.2 736.7,570.0 740.0,556.7 743.3,551.7 745.8,560.0 747.5,576.7 750.0,575.0 753.3,575.0 755.8,571.7 758.3,575.0 760.0,586.7 761.7,598.3 763.3,608.3 765.0,618.3 766.7,628.3 769.2,640.0 771.7,650.0 774.2,655.0 776.7,658.3 779.2,661.7 786.7,661.7 788.3,666.7 790.8,660.0 793.3,660.0 798.3,668.3 801.7,671.7 805.0,675.0 807.5,671.7 810.8,675.8 813.3,673.3 816.7,671.7 819.2,660.0 821.7,650.0 824.2,636.7 826.7,626.7 828.3,620.0 830.0,611.7 831.7,601.7 834.2,591.7 836.7,586.7 839.2,583.3 841.7,581.7 843.3,590.0 850.0,598.3 853.3,600.8 856.7,595.0 860.0,587.5 861.7,595.0 864.2,601.7 867.5,605.0 870.0,616.7 873.3,621.7 875.8,624.2 878.3,618.3 880.8,611.7 883.3,611.7 891.7,618.3 894.2,621.7 896.7,623.3 899.2,621.7 901.7,620.0 904.2,625.0 906.7,625.8 910.0,623.3 912.5,620.0 915.8,615.8 918.3,615.0 920.8,611.7 923.3,605.8 925.8,606.7 927.5,611.7 930.0,618.3 932.5,620.0 935.0,618.3 937.5,625.0 940.0,625.8 942.5,629.2 945.8,630.8 948.3,630.0 950.8,631.7 953.3,632.5 955.8,626.7 958.3,623.3 960.0,620.8 962.5,630.0 965.8,628.3 968.3,633.3 970.8,640.0 973.3,641.7 975.8,633.3 978.3,620.0 981.7,608.3 984.2,601.7 986.7,608.3 989.2,610.0 991.7,606.7 994.2,601.7 996.7,599.2 999.2,603.3 1001.7,600.0 1004.2,593.3 1006.3,585.0 1008.3,591.7 1010.8,600.0 1013.3,603.3 1015.8,610.0 1018.3,615.0 1020.0,615.0 1020.8,608.3 1023.3,600.0 1025.8,596.7 1029.2,593.3 1031.7,591.7 1034.2,583.3 1036.7,579.2 1039.2,578.3 1041.7,580.8 1044.2,590.0 1046.7,596.7 1049.2,599.2 1051.7,598.3 1054.2,595.0 1056.7,586.7 1059.2,580.0 1061.7,579.2 1064.2,583.3 1066.7,586.7 1069.2,590.0 1071.7,591.7 1074.2,593.3 1076.7,598.3 1079.2,605.0 1081.7,610.0 1085.0,610.8 1087.5,611.7 1090.0,608.3 1095.0,601.7 1100.0,595.0 1102.5,590.0 1105.0,588.3 1107.5,583.3 1110.0,579.2 1112.5,583.3 1115.0,584.2 1116.7,576.7 1117.8,570.0 1118.3,560.0 1120.0,543.0 1121.7,526.7 1123.3,508.0 1124.2,490.0 1125.0,473.0 1125.8,455.0 1128.5,432.0 1132.5,419.0 1135.0,413.0 1137.0,406.7 1138.3,399.0 1139.4,390.0 1140.4,371.7 1141.7,356.7 1142.5,346.7 1143.5,343.0 1146.0,343.5 1148.8,342.0 1150.2,335.0 1151.0,328.0 1152.0,315.0 1153.8,310.0 1155.4,315.0 1157.0,320.8 1158.8,325.0 1160.0,320.0 1161.2,305.0 1162.5,294.0 1163.8,292.5 1165.0,298.0 1165.8,307.5 1167.0,313.0 1168.3,312.5 1169.6,316.7 1170.8,321.7 1172.0,326.7 1174.0,338.0 1176.7,353.0 1177.9,355.0 1179.2,361.7 1180.0,371.7 1180.8,381.7 1181.5,391.7 1182.0,399.0 1182.5,410.8 1182.9,423.0 1183.3,431.7 1183.8,447.0 1184.6,462.5 1185.4,473.0 1187.0,483.0 1188.8,490.0 1190.0,494.0 1190.8,504.0 1191.7,510.0 1192.5,518.5 1195.0,525.0 1197.0,527.0"/>
<polyline stroke="#70AD47" stroke-width="3.5" points="76.7,284.7 77.5,310.0 78.7,346.7 79.7,350.8 81.7,355.8 83.3,375.0 84.7,386.7 86.7,388.3 89.2,381.7 91.3,379.2 93.3,360.0 95.0,341.7 96.3,331.7 97.5,343.3 98.7,358.3 100.8,368.3 103.3,383.3 105.8,397.5 107.0,393.3 108.3,385.0 110.0,392.5 112.5,395.0 114.2,403.3 115.8,410.0 118.0,417.5 119.2,433.3 120.3,453.3 121.0,473.3 121.7,485.0 122.7,504.2 124.2,495.8 125.3,480.0 126.7,465.0 128.3,450.0 130.0,439.2 131.3,450.0 132.0,476.7 132.8,501.7 134.2,526.7 135.3,546.7 136.7,570.0 138.0,583.3 139.5,591.7 140.8,583.3 141.7,560.0 143.3,548.3 145.0,545.0 147.0,541.7 148.3,530.0 150.0,510.0 151.7,495.0 153.3,488.3 154.7,487.5 156.7,491.7 159.2,489.2 160.0,480.0 161.2,460.0 162.0,443.3 163.3,426.7 164.2,410.0 165.8,393.3 167.5,376.7 169.2,360.0 170.8,346.7 175.0,316.7 177.5,308.3 180.3,295.8 183.3,294.2 186.7,290.8 188.7,285.0 190.3,278.0 191.7,283.3 193.3,285.8 195.3,282.0 198.0,284.2 200.0,298.3 202.5,311.7 205.0,326.7 207.5,340.0 210.0,358.3 212.5,370.0 214.7,383.3 217.5,383.3 219.7,379.2 222.5,386.7 226.7,381.7 230.0,370.0 232.5,364.2 234.2,364.2 235.8,360.0 237.5,346.7 240.8,340.0 242.5,330.0 243.8,323.8 246.7,326.7 248.0,340.0 249.2,355.8 251.7,356.7 253.3,366.7 255.0,380.0 256.7,393.3 258.3,402.3 261.7,405.0 264.2,401.7 265.8,393.3 267.5,410.0 270.0,403.3 272.5,420.0 275.0,439.2 277.5,413.3 280.0,423.3 282.5,413.3 285.0,403.3 287.0,377.5 288.7,393.3 290.0,413.3 292.0,441.7 294.2,427.5 296.7,448.3 299.2,465.0 301.7,441.7 304.2,430.0 306.7,438.3 309.2,438.3 311.7,451.7 314.2,452.5 316.3,461.7 318.3,420.0 320.8,419.2 322.5,427.5 324.2,438.3 325.8,427.5 328.0,428.3 330.0,450.0 331.2,463.3 333.3,460.0 335.0,470.0 336.7,483.3 338.7,501.7 340.8,488.3 342.5,485.8 344.7,496.7 346.3,511.7 347.5,526.7 350.0,530.0 352.5,530.8 355.0,533.3 357.5,545.8 359.2,530.8 362.5,530.0 365.0,521.7 367.5,520.0 370.0,523.3 372.5,526.7 375.0,515.0 377.0,506.7 379.2,513.3 381.3,518.3 383.3,512.5 385.8,514.2 388.3,518.3 390.8,523.3 392.5,526.7 394.2,523.3 396.7,540.0 399.2,548.3 401.3,554.2 404.2,548.3 406.7,543.3 409.2,538.3 410.8,531.7 413.3,536.7 415.8,523.3 418.3,513.3 420.8,504.2 424.2,504.2 426.7,496.7 430.0,485.8 432.5,489.2 434.7,510.0 437.0,498.3 439.2,510.0 441.7,523.3 444.2,530.0 446.7,543.3 448.3,555.0 450.0,558.3 452.5,557.5 454.2,547.5 456.7,558.3 459.2,566.7 461.7,576.7 464.2,570.0 465.3,593.3 466.7,615.0 468.3,603.3 470.0,590.0 471.3,580.0 472.5,593.3 474.2,605.8 476.7,596.7 480.8,596.7 483.3,608.3 485.8,615.0 488.3,619.2 490.8,617.5 493.3,615.0 495.8,598.3 498.3,610.0 500.3,615.0 502.5,588.3 505.0,588.3 506.7,580.0 509.2,566.7 511.7,551.7 513.3,536.7 515.0,531.7 517.5,536.7 520.0,548.3 522.0,554.2 524.2,543.3 526.7,533.3 529.2,526.7 531.7,534.2 534.2,535.0 536.7,540.0 539.2,545.0 540.8,528.3 544.2,526.7 546.7,520.0 548.3,508.3 550.8,510.0 553.3,506.7 555.8,511.7 558.3,516.7 559.0,543.3 559.7,573.3 560.3,593.3 561.2,611.7 562.2,576.7 562.8,560.0 564.2,548.3 565.8,546.7 567.5,551.7 569.2,570.0 570.3,590.0 573.3,588.3 575.8,583.3 578.3,573.3 580.8,565.0 583.3,561.7 585.8,555.0 587.3,550.0 588.0,526.7 588.7,476.7 590.0,438.3 590.8,476.7 591.7,510.0 593.3,518.3 595.0,518.3 596.7,505.0 599.2,493.3 600.8,490.0 603.3,476.7 605.0,475.0 606.7,475.8 609.2,462.5 611.7,468.3 614.2,471.7 616.7,471.7 619.2,471.7 621.3,460.0 623.3,455.0 625.8,453.3 628.3,442.5 630.0,451.7 631.7,465.0 633.3,475.8 635.8,466.7 637.5,481.7 638.3,489.2 640.0,486.7 641.3,485.8 643.3,490.0 645.8,498.3 648.0,501.7 650.0,515.0 652.5,511.7 655.0,511.7 656.7,500.0 658.7,490.0 660.8,480.0 662.5,471.7 664.2,481.7 666.7,482.5 670.0,483.3 674.2,484.2 676.7,478.3 678.3,463.3 680.0,458.3 682.0,456.7 684.2,465.0 685.8,476.7 687.5,483.3 689.2,479.2 691.7,483.3 694.2,470.0 696.7,455.0 698.7,444.2 700.8,456.7 703.3,450.8 705.0,455.0 706.7,463.3 709.2,480.0 711.3,491.7 713.3,483.3 715.8,465.0 718.3,469.2 720.8,480.0 723.3,490.0 725.8,500.0 728.0,505.0 730.0,496.7 732.5,486.7 735.0,473.3 737.5,468.3 740.0,460.0 742.5,451.7 744.2,463.3 745.8,485.0 748.3,491.7 749.7,486.7 751.7,503.3 754.2,491.7 756.7,487.5 759.2,490.0 760.8,496.7 762.5,508.3 764.2,520.0 765.8,553.3 767.5,578.3 769.2,600.0 770.8,620.0 772.5,643.3 774.2,662.3 775.8,683.3 777.5,700.0 778.7,716.7 780.8,713.3 782.5,728.3 784.2,738.3 785.8,745.0 788.3,743.3 790.0,735.0 791.7,726.7 793.7,723.3 794.7,703.3 795.0,683.3 795.8,661.7 797.0,646.7 798.3,630.0 799.2,606.7 800.8,586.7 802.5,566.7 804.2,550.0 805.8,530.0 806.7,516.7 808.3,510.0 810.8,500.0 812.8,490.8 815.0,496.7 816.7,505.0 819.2,516.7 821.7,530.0 823.3,546.7 825.0,558.3 827.5,563.3 829.2,573.3 830.0,576.7 832.5,576.7 835.0,576.7 836.7,580.0 839.2,576.7 840.8,574.2 843.3,575.0 845.8,568.3 848.3,561.7 850.8,558.3 852.5,576.7 855.8,573.3 859.2,553.3 861.7,550.0 863.7,550.0 865.8,555.0 868.3,558.3 870.8,570.0 873.3,560.8 875.8,565.0 877.5,571.7 880.0,571.7 881.7,556.7 882.8,542.0 885.0,550.0 886.7,555.0 889.2,563.3 890.8,570.0 893.3,571.7 895.0,570.0 896.7,583.3 899.2,580.0 901.7,575.0 904.2,571.7 906.7,569.2 909.2,566.7 910.8,571.7 913.3,565.0 915.8,562.5 918.3,570.0 920.8,576.7 922.5,580.8 924.7,573.3 926.7,565.0 928.7,561.3 930.8,570.8 933.3,570.8 935.8,574.2 938.3,579.2 940.0,586.7 941.7,593.3 944.2,596.7 946.7,600.0 948.3,611.7 950.8,616.7 953.3,621.7 955.8,626.7 957.5,630.8 960.0,627.5 962.5,630.0 965.0,627.5 967.5,628.3 970.0,631.7 972.5,634.2 975.0,637.5 975.8,623.3 976.7,612.3 979.2,603.3 981.7,596.7 984.2,591.7 986.7,583.3 990.0,578.3 993.3,573.3 995.8,573.3 998.3,566.7 1000.8,565.0 1003.3,558.3 1005.8,556.7 1008.3,555.0 1010.0,570.0 1011.7,580.0 1013.3,574.2 1015.8,583.3 1018.3,585.0 1020.0,596.7 1022.5,600.0 1025.0,586.7 1027.5,582.5 1030.0,581.7 1032.5,578.3 1035.0,575.0 1037.5,566.7 1039.2,540.0 1040.8,546.7 1042.5,555.0 1045.0,550.0 1047.5,543.3 1049.2,537.5 1051.7,541.7 1054.2,540.0 1056.7,548.3 1059.2,540.0 1061.7,534.2 1063.3,550.0 1065.0,561.7 1066.7,570.0 1068.7,581.7 1070.8,571.7 1073.3,583.3 1075.8,585.0 1078.3,583.3 1080.8,584.2 1083.3,593.3 1085.0,590.0 1086.7,598.3 1089.2,603.3 1091.7,591.7 1094.2,585.0 1095.8,583.3 1097.5,595.0 1098.7,616.7 1100.0,640.0 1100.8,651.7 1102.5,641.7 1105.0,631.7 1107.5,620.0 1110.0,605.0 1112.5,591.7 1114.2,595.0 1116.7,590.0 1119.2,591.7 1120.8,580.0 1122.5,560.0 1124.2,540.0 1125.0,518.0 1125.8,493.0 1126.7,476.7 1127.7,461.0 1128.3,440.0 1128.8,423.0 1130.0,415.0 1131.7,405.0 1133.5,393.0 1135.0,383.0 1135.8,376.7 1137.5,375.8 1138.8,376.7 1140.0,381.7 1141.2,387.5 1142.5,381.7 1143.3,371.7 1144.2,361.7 1145.0,350.8 1145.6,338.0 1146.3,326.7 1147.5,320.0 1149.2,318.0 1150.4,323.0 1151.2,330.0 1153.3,336.7 1155.4,340.8 1157.5,345.8 1159.6,350.0 1160.5,353.0 1161.7,350.8 1163.3,350.0 1165.0,352.5 1167.0,351.0 1169.2,346.7 1170.4,338.0 1171.4,330.0 1172.9,325.4 1174.2,331.0 1175.2,339.0 1176.2,346.7 1177.9,352.5 1179.2,346.7 1180.4,340.0 1181.2,333.0 1182.5,328.8 1184.0,331.7 1184.8,338.0 1185.5,345.5 1186.7,350.8 1188.3,355.8 1189.6,360.0 1190.4,366.7 1191.2,376.7 1192.0,386.7 1192.9,380.0 1193.8,370.0 1194.6,358.0 1195.4,363.0 1196.2,376.7 1197.0,387.5 1197.9,384.0"/>
<polyline stroke="#264478" stroke-width="6" points="76.7,419.2 77.8,430.0 78.7,438.3 80.8,442.0 82.5,450.8 84.2,462.5 85.8,453.3 87.5,443.3 89.2,440.3 90.8,465.8 92.5,460.0 94.2,455.8 96.3,457.0 98.3,460.8 100.5,456.7 102.5,460.0 105.0,453.3 106.7,466.7 108.0,478.3 110.0,480.3 112.0,473.7 114.2,475.8 116.3,478.7 118.7,476.7 120.8,482.5 122.5,492.5 124.7,482.5 127.0,470.8 130.0,476.7 133.3,479.2 135.8,478.7 137.0,463.3 140.0,455.0 142.5,448.3 145.0,445.8 147.5,449.2 150.0,453.3 152.5,446.7 154.7,438.3 156.7,430.3 160.0,428.3 163.3,424.2 165.8,433.3 168.3,435.0 170.8,426.7 173.3,416.7 175.8,412.0 177.5,403.7 178.7,383.3 180.8,388.3 184.2,380.0 186.7,376.7 189.2,368.3 190.8,362.5 193.3,360.0 195.3,350.8 197.0,355.0 199.2,365.8 201.3,371.7 203.7,375.0 205.8,380.0 207.5,389.2 209.2,397.5 211.3,400.8 213.3,410.0 217.5,411.7 219.7,430.0 221.3,423.3 223.3,403.3 225.0,386.7 227.0,373.0 228.7,386.7 230.8,391.7 233.3,381.7 235.8,380.0 237.5,370.0 239.2,358.3 241.7,355.8 244.2,356.7 245.8,367.5 248.3,371.7 250.0,388.3 251.7,401.7 253.3,416.7 255.8,431.7 258.3,423.3 260.0,413.3 265.8,440.0 267.5,450.0 269.2,456.7 270.8,470.0 273.3,475.8 275.0,460.0 277.5,457.5 279.2,473.3 280.8,488.3 283.3,490.0 285.8,488.3 287.5,498.3 289.2,511.7 290.8,517.5 293.3,515.0 295.8,511.7 297.5,514.2 299.2,533.3 301.7,530.8 304.2,535.0 306.7,533.3 309.2,531.7 311.7,538.3 314.2,548.3 316.7,540.0 319.2,531.7 321.7,538.3 324.2,544.2 326.7,541.7 330.0,536.7 332.5,535.0 335.0,535.8 337.5,543.3 340.0,548.3 342.5,536.7 344.7,546.7 346.7,551.7 349.2,543.3 350.8,535.0 353.0,536.7 355.0,550.0 357.5,558.3 360.0,566.7 362.5,573.3 365.0,566.7 367.5,563.3 370.0,566.7 372.5,564.2 374.7,560.8 376.7,570.0 379.2,590.0 381.7,599.2 384.2,588.3 386.7,580.0 389.2,581.7 391.7,593.3 394.2,596.7 395.8,613.3 398.3,610.0 400.8,611.7 403.3,613.3 406.7,611.7 410.0,613.3 412.5,628.3 415.0,623.3 417.5,613.3 420.0,601.7 423.3,603.3 426.7,598.3 430.0,593.3 432.5,603.3 435.0,606.7 437.5,598.3 440.0,600.0 443.3,605.0 445.8,613.3 448.3,625.0 450.0,630.0 452.5,630.0 454.7,621.7 456.7,636.7 458.7,651.7 460.8,653.3 463.3,638.3 465.0,640.0 466.7,671.7 468.3,660.0 470.0,646.7 471.3,630.0 473.3,653.3 475.8,648.3 478.3,646.7 480.8,636.7 483.3,635.0 485.8,643.3 488.3,645.0 490.8,646.7 493.3,641.7 495.8,631.7 497.5,646.7 500.0,667.5 501.7,655.0 503.3,640.0 505.8,641.7 508.3,635.0 510.8,633.3 513.3,638.3 515.8,621.7 517.5,606.7 519.2,621.7 520.3,631.7 522.5,630.0 525.0,625.0 527.5,613.3 529.2,605.0 531.7,606.7 534.2,602.5 536.7,598.3 539.2,600.8 541.7,596.7 543.7,603.3 545.8,610.0 548.3,603.3 550.8,605.0 552.5,595.0 554.2,588.3 556.7,591.7 558.3,601.7 559.7,616.7 561.3,631.7 564.2,636.7 566.7,643.3 569.2,660.0 570.8,670.0 573.3,661.7 575.8,658.3 578.3,653.3 580.8,652.5 582.5,673.3 585.0,684.2 587.5,673.3 590.0,661.7 592.5,665.0 595.0,668.3 597.5,661.7 599.7,666.7 601.7,675.0 604.2,673.3 606.7,680.0 609.2,675.0 611.7,665.0 614.2,657.5 616.7,663.3 619.2,655.0 621.7,648.3 624.2,643.3 625.8,633.3 627.5,623.3 630.0,613.3 632.5,606.7 635.0,596.7 637.5,590.0 640.0,588.3 642.5,595.0 645.0,603.3 647.5,601.7 650.0,593.3 652.5,585.0 655.0,585.8 657.5,583.3 660.0,586.7 662.5,581.7 665.0,590.0 667.5,589.2 670.0,595.8 672.5,586.7 674.2,575.0 677.5,570.0 680.0,563.3 683.3,555.8 686.7,554.2 689.2,559.2 691.7,562.5 694.2,557.5 696.7,550.0 698.3,538.3 700.8,541.7 703.3,545.0 705.8,536.7 708.3,545.0 710.0,558.3 711.7,571.7 713.3,563.3 715.0,550.0 716.7,538.3 718.3,535.0 720.0,543.3 722.5,555.0 725.0,561.7 727.5,569.2 730.0,575.0 732.5,583.3 735.0,580.0 737.5,568.3 739.2,558.3 740.8,552.5 743.0,549.2 745.0,556.7 746.7,570.0 748.0,585.8 750.0,575.0 752.5,563.3 755.0,553.3 757.5,545.0 760.0,533.3 761.7,523.3 764.2,521.7 765.8,533.3 767.5,550.0 769.2,570.0 770.8,586.7 772.5,603.3 774.2,616.7 776.7,615.0 778.3,633.3 780.8,645.0 782.5,656.7 785.0,670.0 787.5,681.7 790.0,693.3 792.5,705.0 794.2,706.7 795.0,686.7 795.8,668.3 798.3,661.7 800.8,656.7 804.2,653.3 805.3,665.0 806.7,646.7 809.2,643.3 812.5,640.8 814.2,651.7 815.8,662.3 818.3,667.5 821.7,670.0 823.3,681.7 825.0,692.5 827.5,686.7 830.0,683.3 831.7,663.3 833.3,653.3 835.8,651.7 837.5,640.0 840.0,621.7 842.5,603.3 844.2,590.0 845.8,580.0 848.3,577.5 850.8,576.7 852.5,586.7 854.2,593.3 855.8,580.0 857.5,570.0 860.0,568.3 864.2,570.0 866.7,574.2 869.2,583.3 871.7,590.0 874.2,595.0 877.5,601.7 878.3,610.0 880.0,598.3 882.0,590.0 884.2,598.3 885.8,608.3 888.3,618.3 890.8,626.7 893.3,636.7 895.0,648.3 896.3,663.3 898.3,666.7 900.0,671.7 902.5,664.2 905.0,663.3 906.7,668.3 909.2,671.7 911.3,673.3 914.2,665.8 915.8,676.7 918.3,680.0 920.8,687.5 923.3,683.3 925.8,673.3 928.3,666.7 930.8,665.0 933.3,664.2 935.8,668.3 938.3,661.7 940.0,676.7 941.7,688.3 944.2,683.3 946.3,679.2 948.0,693.3 949.2,705.0 951.7,698.3 953.3,690.0 955.3,685.0 957.5,693.3 960.0,700.0 962.5,706.7 965.0,693.3 967.5,695.0 970.0,698.3 972.5,695.0 975.0,686.7 976.7,680.8 979.2,680.0 981.7,685.0 984.2,678.3 986.7,670.0 989.2,676.7 991.7,668.3 994.2,666.7 996.7,660.0 998.7,648.3 1000.8,665.0 1003.3,665.0 1005.0,651.7 1006.7,643.3 1009.2,640.8 1011.7,645.0 1013.3,655.0 1015.0,666.7 1017.5,665.0 1020.0,656.7 1022.5,666.7 1025.0,670.8 1026.7,660.0 1028.3,656.7 1030.8,655.0 1033.3,651.7 1035.8,648.3 1038.3,641.7 1040.0,631.7 1042.5,621.7 1045.0,616.7 1047.5,623.3 1050.0,629.2 1052.5,625.0 1055.0,626.7 1056.7,636.7 1058.3,625.0 1060.8,616.7 1062.5,626.7 1064.2,641.7 1065.8,653.3 1068.3,668.3 1070.8,671.7 1073.3,673.3 1075.8,663.3 1078.3,662.5 1080.8,653.3 1083.3,663.3 1085.8,662.5 1088.3,674.2 1090.8,671.7 1092.5,663.3 1095.0,649.2 1096.7,660.0 1098.3,683.3 1100.0,693.3 1102.5,697.5 1105.0,691.7 1106.7,680.0 1108.3,665.0 1110.0,651.7 1112.5,650.0 1114.2,663.3 1116.7,662.5 1118.3,651.7 1120.0,636.7 1121.7,621.7 1124.2,618.3 1125.3,603.3 1126.3,586.7 1127.0,570.0 1127.5,550.0 1129.2,522.0 1130.3,505.0 1131.0,496.7 1132.2,491.7 1134.2,492.0 1135.8,483.0 1136.7,479.5 1138.5,486.0 1140.0,485.0 1141.2,475.0 1142.0,462.5 1143.0,449.0 1144.2,431.7 1145.0,415.0 1145.8,398.0 1146.7,384.0 1147.9,379.0 1150.0,377.5 1152.0,376.7 1153.3,369.0 1154.6,361.7 1155.4,355.0 1156.7,353.0 1158.3,359.0 1159.6,367.5 1160.8,374.0 1162.0,363.0 1162.9,354.0 1164.2,355.0 1165.0,365.0 1165.8,380.0 1166.7,389.0 1167.5,380.0 1168.3,367.5 1169.6,355.0 1170.8,349.0 1172.0,351.7 1173.3,360.0 1174.6,370.0 1175.4,380.0 1176.3,392.0 1177.0,403.0 1177.9,410.0 1179.0,408.0 1180.0,400.0 1180.7,394.0 1181.6,394.5 1182.5,399.0 1183.3,406.7 1184.2,415.0 1185.0,423.0 1185.8,430.0 1187.5,433.0 1189.2,437.5 1190.3,441.0 1190.8,450.0 1191.2,466.7 1191.9,476.0 1192.9,477.5 1194.2,470.8 1195.2,463.0 1195.9,464.0 1196.3,475.0 1196.6,487.5 1197.0,497.5"/>
</g>
<g font-size="16">
<line x1="44.5" y1="845.3" x2="84" y2="845.3" stroke="#4472C4" stroke-width="3.5" stroke-linecap="round"/>
<text x="89" y="849.8" textLength="51.5" lengthAdjust="spacingAndGlyphs">PCExFE</text>
<line x1="154.5" y1="845.3" x2="193.3" y2="845.3" stroke="#ED7D31" stroke-width="3.5" stroke-linecap="round"/>
<text x="198.3" y="849.8" textLength="145.5" lengthAdjust="spacingAndGlyphs">Trimmed mean PCE</text>
<line x1="356" y1="845.3" x2="396" y2="845.3" stroke="#A5A5A5" stroke-width="3.5" stroke-linecap="round"/>
<text x="401" y="849.8" textLength="87.5" lengthAdjust="spacingAndGlyphs">Median PCE</text>
<line x1="502" y1="845.3" x2="540.7" y2="845.3" stroke="#FFC000" stroke-width="3.5" stroke-linecap="round"/>
<text x="545.7" y="849.8" textLength="125.5" lengthAdjust="spacingAndGlyphs">Cyclical Core PCE</text>
<line x1="684.5" y1="845.3" x2="723.3" y2="845.3" stroke="#5B9BD5" stroke-width="3.5" stroke-linecap="round"/>
<text x="728.3" y="849.8" textLength="178" lengthAdjust="spacingAndGlyphs">Multivariate Core Trend</text>
<line x1="918.5" y1="845.3" x2="958.3" y2="845.3" stroke="#264478" stroke-width="5.7" stroke-linecap="round"/>
<text x="963.3" y="849.8" textLength="189" lengthAdjust="spacingAndGlyphs">Trimmed Persistence PCE</text>
</g>
</svg>
</body></html>
